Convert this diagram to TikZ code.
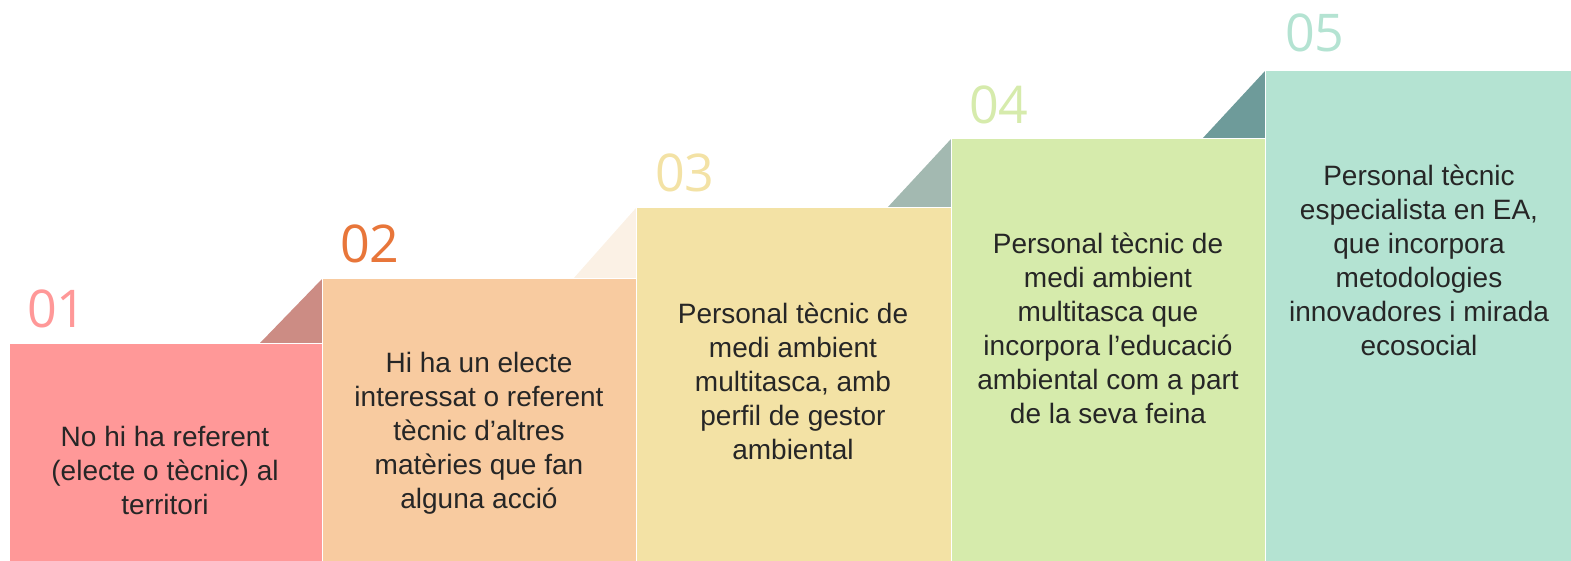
\documentclass[tikz,border=0pt]{standalone}
\usepackage{fontspec}
\setmainfont{Liberation Sans}
\newfontfamily\numfont{Open Sans}
\usetikzlibrary{positioning}

\definecolor{stepone}{HTML}{FF9898}
\definecolor{steptwo}{HTML}{F8CBA0}
\definecolor{stepthree}{HTML}{F3E2A5}
\definecolor{stepfour}{HTML}{D6EBAC}
\definecolor{stepfive}{HTML}{B4E3D2}
\definecolor{numtwo}{HTML}{E8763A}
\definecolor{foldtwo}{HTML}{CC8C84}
\definecolor{foldthree}{HTML}{FBF1E5}
\definecolor{foldfour}{HTML}{A3B9B1}
\definecolor{foldfive}{HTML}{6E9B9A}

\begin{document}
\begin{tikzpicture}[x=1pt,y=-1pt,
	steptext/.style={align=center,font=\fontsize{28}{34}\selectfont,text=black!85},
	stepnum/.style={font=\numfont\fontsize{52}{52}\selectfont,anchor=base west,inner sep=0pt}]
		\useasboundingbox (0,0) rectangle (1571,561);

		% folds
		\fill[foldtwo] (260,343) -- (322,279) -- (322,343) -- cycle;
		\fill[foldthree] (573,279) -- (636,208) -- (636,279) -- cycle;
		\fill[foldfour] (887,208) -- (951,139) -- (951,208) -- cycle;
		\fill[foldfive] (1202,139) -- (1265,71) -- (1265,139) -- cycle;

		% steps
		\filldraw[fill=stepone,draw=white,line width=1pt] (9,343) rectangle (322,562);
		\filldraw[fill=steptwo,draw=white,line width=1pt] (322,279) rectangle (636,562);
		\filldraw[fill=stepthree,draw=white,line width=1pt] (636,208) rectangle (951,562);
		\filldraw[fill=stepfour,draw=white,line width=1pt] (951,139) rectangle (1265,562);
		\filldraw[fill=stepfive,draw=white,line width=1pt] (1265,71) rectangle (1572,562);

		% numbers
		\node[stepnum,text=stepone] (num1) at (27,327) {01};
		\node[stepnum,text=numtwo] (num2) at (340,263) {02};
		\node[stepnum,text=stepthree] (num3) at (655,192) {03};
		\node[stepnum,text=stepfour] (num4) at (969,124) {04};
		\node[stepnum,text=stepfive] (num5) at (1285,52) {05};

		% texts
		\node[steptext] (txt1) at (165,470) {No hi ha referent\\(electe o tècnic) al\\territori};
		\node[steptext] (txt2) at (479,433) {Hi ha un electe\\interessat o referent\\tècnic d’altres\\matèries que fan\\alguna acció};
		\node[steptext] (txt3) at (793,381) {Personal tècnic de\\medi ambient\\multitasca, amb\\perfil de gestor\\ambiental};
		\node[steptext] (txt4) at (1108,328) {Personal tècnic de\\medi ambient\\multitasca que\\incorpora l’educació\\ambiental com a part\\de la seva feina};
		\node[steptext] (txt5) at (1419,260) {Personal tècnic\\especialista en EA,\\que incorpora\\metodologies\\innovadores i mirada\\ecosocial};
	\end{tikzpicture}
\end{document}
